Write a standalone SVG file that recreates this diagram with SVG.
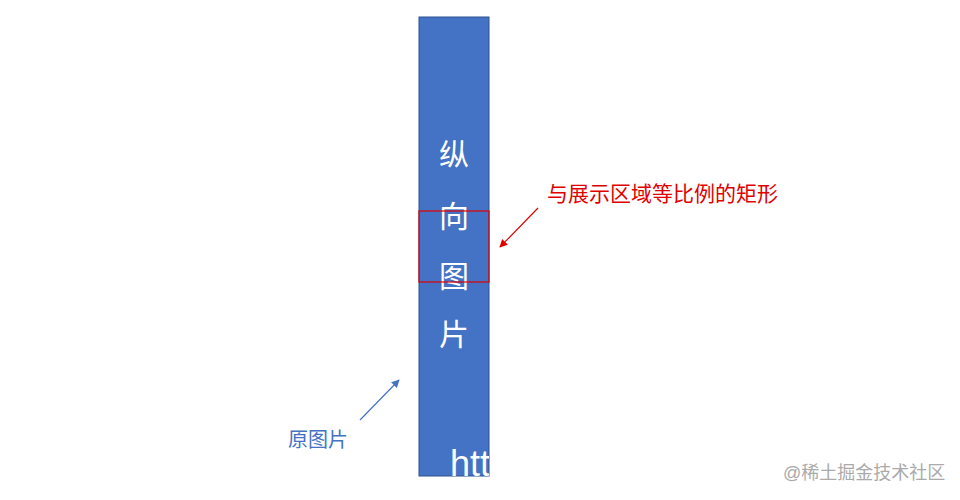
<svg xmlns="http://www.w3.org/2000/svg" width="960" height="500" viewBox="0 0 960 500">
<style>
.cjk{font-family:"Liberation Sans","Noto Sans CJK SC",sans-serif}
.v{fill:#fff;font-size:30px;text-anchor:middle;dominant-baseline:central}
</style>
<defs>
<clipPath id="imgclip"><rect x="419" y="17" width="70" height="459"/></clipPath>
<marker id="ar" viewBox="0 0 10 10" refX="9" refY="5" markerWidth="8" markerHeight="8" orient="auto" markerUnits="userSpaceOnUse"><path d="M0,0 L10,5 L0,10 z" fill="#e00000"/></marker>
<marker id="ab" viewBox="0 0 10 10" refX="9" refY="5" markerWidth="8" markerHeight="8" orient="auto" markerUnits="userSpaceOnUse"><path d="M0,0 L10,5 L0,10 z" fill="#4472c4"/></marker>
</defs>
<rect width="960" height="500" fill="#fff"/>
<g id="image">
<rect x="419" y="17" width="70" height="459" fill="#4472c4" stroke="#2f528f" stroke-width="1"/>
<g class="cjk v">
<text x="454" y="154">纵</text>
<text x="454" y="216">向</text>
<text x="454" y="276">图</text>
<text x="454" y="334">片</text>
</g>
<text x="450" y="476" clip-path="url(#imgclip)" font-family="Liberation Sans, sans-serif" font-size="36" fill="#fff">htt</text>
</g>
<g id="ratio-rect">
<rect x="419" y="211" width="70" height="71" fill="none" stroke="#e00000" stroke-width="1.2"/>
</g>
<g id="label-ratio">
<text x="547" y="201" class="cjk" font-size="21" fill="#e00000">与展示区域等比例的矩形</text>
</g>
<g id="label-original">
<text x="288" y="447" class="cjk" font-size="20" fill="#4472c4">原图片</text>
</g>
<g id="connectors">
<line x1="538" y1="208" x2="500" y2="247" stroke="#e00000" stroke-width="1.2" marker-end="url(#ar)"/>
<line x1="360" y1="420" x2="399" y2="380" stroke="#4472c4" stroke-width="1.2" marker-end="url(#ab)"/>
</g>
<text x="783" y="479" class="cjk" font-size="18" fill="#aaaaaa">@稀土掘金技术社区</text>
</svg>
